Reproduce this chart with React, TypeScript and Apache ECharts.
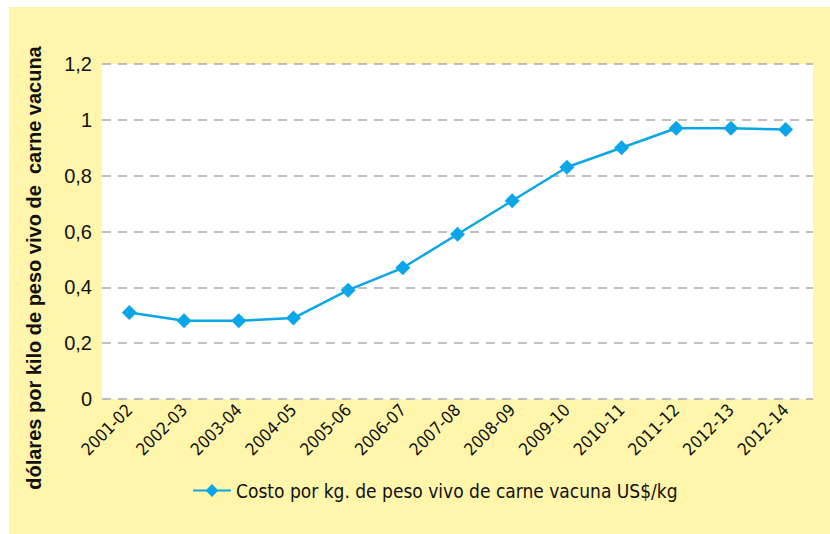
import React, { useEffect, useRef } from "react";
import * as echarts from "echarts";

const categories = [
  "2001-02", "2002-03", "2003-04", "2004-05", "2005-06", "2006-07", "2007-08",
  "2008-09", "2009-10", "2010-11", "2011-12", "2012-13", "2012-14",
];
const costValues = [0.31, 0.28, 0.28, 0.29, 0.39, 0.47, 0.59, 0.71, 0.83, 0.9, 0.97, 0.97, 0.965];
const seriesName = "Costo por kg. de peso vivo de carne vacuna US$/kg";
const yAxisTitle = "dólares por kilo de peso vivo de  carne vacuna";

const NARROW = "'Liberation Sans Narrow', 'DejaVu Sans Condensed', 'Liberation Sans', Arial, sans-serif";

export default function App() {
  const ref = useRef<HTMLDivElement>(null);
  useEffect(() => {
    if (!ref.current) return;
    const chart = echarts.init(ref.current, undefined, { renderer: "svg" });
    chart.setOption({
      animation: false,
      backgroundColor: "#ffffff",
      graphic: [
        {
          type: "rect",
          z: -10,
          silent: true,
          shape: { x: 9, y: 7, width: 830, height: 540 },
          style: { fill: "#FFF6AB" },
        },
        {
          type: "text",
          x: 34,
          y: 268,
          rotation: Math.PI / 2,
          style: {
            text: yAxisTitle,
            font: "bold 20px 'Liberation Sans', Arial, sans-serif",
            fill: "#111",
            align: "center",
            verticalAlign: "middle",
          },
        },
      ],
      grid: {
        left: 102,
        right: 17,
        top: 64,
        bottom: 135,
        show: true,
        backgroundColor: "#ffffff",
        borderWidth: 0,
      },
      legend: {
        data: [seriesName],
        left: 187,
        top: 476,
        itemWidth: 38,
        itemHeight: 16,
        itemGap: 16,
        textStyle: { fontFamily: NARROW, fontSize: 19, color: "#111" },
      },
      xAxis: {
        type: "category",
        data: categories,
        boundaryGap: true,
        axisLine: { show: true, lineStyle: { color: "#000", width: 2.5, shadowColor: "rgba(0,0,0,0.35)", shadowOffsetX: 1, shadowOffsetY: 1, shadowBlur: 1 } },
        axisTick: { show: false },
        axisLabel: {
          rotate: 45,
          interval: 0,
          margin: 8,
          fontFamily: NARROW,
          fontSize: 17,
          color: "#111",
        },
      },
      yAxis: {
        type: "value",
        min: 0,
        max: 1.2,
        interval: 0.2,
        axisLine: { show: true, lineStyle: { color: "#000", width: 2.5, shadowColor: "rgba(0,0,0,0.35)", shadowOffsetX: 1, shadowOffsetY: 1, shadowBlur: 1 } },
        axisTick: { show: false },
        axisLabel: {
          margin: 10,
          fontFamily: "'Liberation Sans', Arial, sans-serif",
          fontSize: 20,
          color: "#111",
          formatter: (v: number) => (Math.round(v * 10) / 10).toString().replace(".", ","),
        },
        splitLine: { show: true, lineStyle: { color: "#aaaaaa", type: [9, 7], width: 1.5 } },
      },
      series: [
        {
          name: seriesName,
          type: "line",
          data: costValues,
          symbol: "diamond",
          symbolSize: 15,
          itemStyle: { color: "#0AA6E8" },
          lineStyle: { color: "#0AA6E8", width: 2.5 },
        },
      ],
    });
    return () => chart.dispose();
  }, []);
  return (
    <div
      ref={ref}
      style={{ position: "fixed", left: 0, top: 0, width: 830, height: 534 }}
    />
  );
}
